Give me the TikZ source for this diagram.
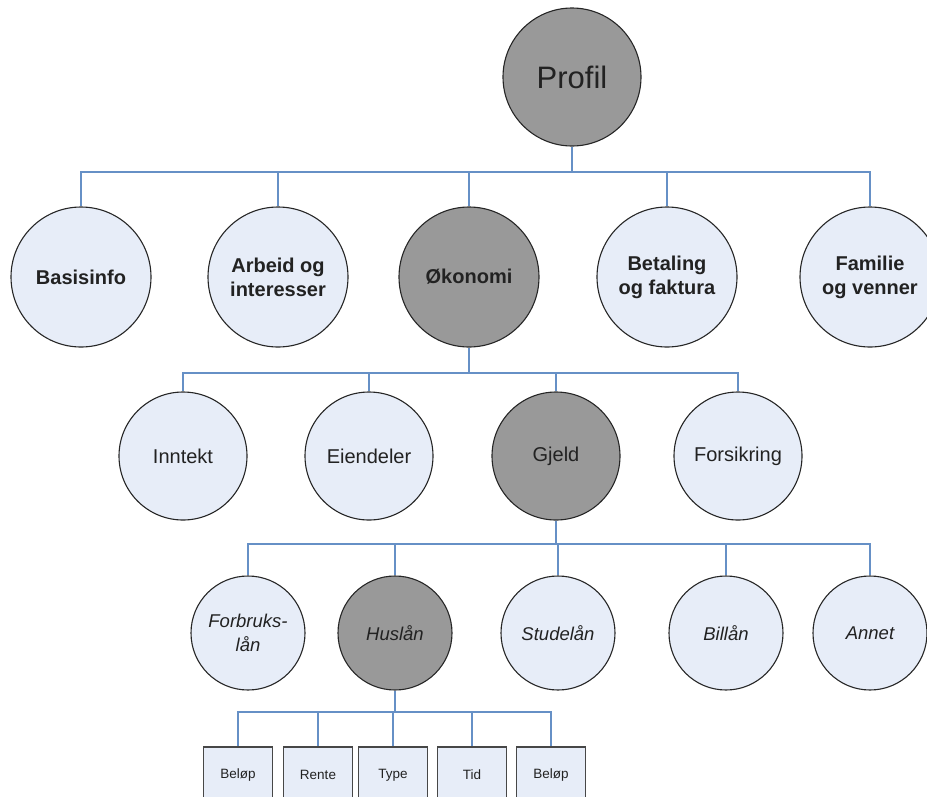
\documentclass[tikz,border=0pt]{standalone}
\usepackage{fontspec}
\setmainfont{Liberation Sans}
\definecolor{lightfill}{HTML}{E7EDF8}
\definecolor{darkfill}{HTML}{999999}
\definecolor{linkblue}{HTML}{6690C6}
\definecolor{inktext}{HTML}{222222}
\begin{document}
\begin{tikzpicture}[x=1pt,y=-1pt,
  conn/.style={draw=linkblue, line width=1.5pt},
  bubble/.style={circle, draw=black!85, line width=1.1pt, inner sep=0pt,
    align=center, text=inktext},
  light/.style={bubble, fill=lightfill},
  dark/.style={bubble, fill=darkfill},
  lvlA/.style={minimum size=140pt, font=\fontsize{20}{24}\selectfont\bfseries},
  lvlB/.style={minimum size=128pt, font=\fontsize{20}{24}\selectfont},
  lvlC/.style={minimum size=114pt, font=\fontsize{18.5}{24}\selectfont\itshape},
  field/.style={rectangle, draw=black!72, line width=1.8pt, fill=lightfill,
    minimum width=69pt, minimum height=56pt, inner sep=0pt, text=inktext,
    font=\fontsize{13.5}{16}\selectfont},
]
\useasboundingbox (0,0) rectangle (927,796);
\clip (0,0) rectangle (927,796);

% horizontal bus lines between levels
\coordinate (busA) at (0,172);
\coordinate (busB) at (0,373);
\coordinate (busC) at (0,544);
\coordinate (busD) at (0,712);

% root
\node[dark, minimum size=138pt, font=\fontsize{31}{36}\selectfont] (profil) at (572,77) {Profil};

% first level
\node[light, lvlA] (basis)    at (81,277)  {Basisinfo};
\node[light, lvlA] (arbeid)   at (278,277) {Arbeid og\\interesser};
\node[dark,  lvlA] (okonomi)  at (469,277) {Økonomi};
\node[light, lvlA] (betaling) at (667,277) {Betaling\\og faktura};
\node[light, lvlA] (familie)  at (870,277) {Familie\\og venner};

% second level
\node[light, lvlB] (inntekt)    at (183,456) {Inntekt};
\node[light, lvlB] (eiendeler)  at (369,456) {Eiendeler};
\node[dark,  lvlB] (gjeld)      at (556,456) {Gjeld};
\node[light, lvlB] (forsikring) at (738,456) {Forsikring};

% third level
\node[light, lvlC] (forbruk)  at (248,633) {Forbruks-\\lån};
\node[dark,  lvlC] (huslan)   at (395,633) {Huslån};
\node[light, lvlC] (studelan) at (558,633) {Studelån};
\node[light, lvlC] (billan)   at (726,633) {Billån};
\node[light, lvlC] (annet)    at (870,633) {Annet};

% fourth level (boxes run past the lower edge)
\node[field] (belopA) at (238,775) {Beløp};
\node[field] (rente)  at (318,775) {Rente};
\node[field] (type)   at (393,775) {Type};
\node[field] (tid)    at (472,775) {Tid};
\node[field] (belopB) at (551,775) {Beløp};

% connectors
\foreach \c in {basis,arbeid,okonomi,betaling,familie}
  \draw[conn] (profil.south) -- (profil.south |- busA) -| (\c.north);
\foreach \c in {inntekt,eiendeler,gjeld,forsikring}
  \draw[conn] (okonomi.south) -- (okonomi.south |- busB) -| (\c.north);
\foreach \c in {forbruk,huslan,studelan,billan,annet}
  \draw[conn] (gjeld.south) -- (gjeld.south |- busC) -| (\c.north);
\foreach \c in {belopA,rente,type,tid,belopB}
  \draw[conn] (huslan.south) -- (huslan.south |- busD) -| (\c.north);
\end{tikzpicture}
\end{document}
